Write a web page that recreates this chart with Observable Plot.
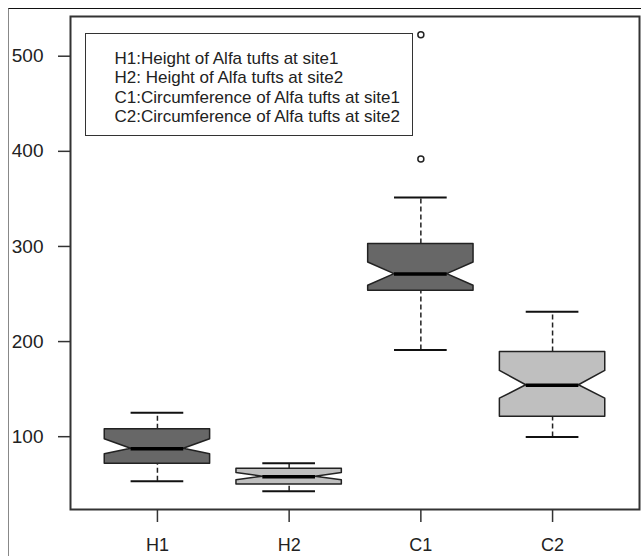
<!DOCTYPE html>
<html>
<head>
<meta charset="utf-8">
<script src="https://cdn.jsdelivr.net/npm/d3@7"></script>
<script src="https://cdn.jsdelivr.net/npm/@observablehq/plot@0.6"></script>
<style>
  body { margin: 0; background: white; }
  #wrap { position: relative; width: 641px; height: 556px; overflow: hidden; font-family: "Liberation Sans", Arial, sans-serif; }
  #outer { position: absolute; left: 8px; top: 8px; right: -4px; bottom: -4px; border-top: 1.5px solid #111; border-left: 1.5px solid #888; pointer-events: none; }
  #legend { position: absolute; left: 84.5px; top: 32.5px; width: 328px; height: 103px; box-sizing: border-box;
            border: 1.5px solid #333; background: white; padding: 15.6px 0 0 29px; font-size: 17px; line-height: 19.33px; color: #222; white-space: pre; }
</style>
</head>
<body>
<div id="wrap">
  <div id="chart"></div>
  <div id="outer"></div>
  <div id="legend"></div>
</div>
<script>
// ---- data ----
const categories = ["H1", "H2", "C1", "C2"];
const site = ["site1", "site2", "site1", "site2"];
const whiskerLow  = [50.0, 39.5, 188.0, 96.5];
const q1          = [68.4, 46.7, 250.2, 117.9];
const notchLow    = [78.3, 51.0, 255.5, 136.8];
const median      = [84.2, 54.8, 267.8, 150.9];
const notchHigh   = [94.1, 58.6, 280.0, 166.0];
const q3          = [104.6, 63.2, 299.4, 186.0];
const whiskerHigh = [122.1, 68.8, 348.4, 228.1];
const outlierCategory = ["C1", "C1"];
const outlierValue = [519.4, 388.8];
const yTicks = [100, 200, 300, 400, 500];
const legendLines = [
  "H1:Height of Alfa tufts at site1",
  "H2: Height of Alfa tufts at site2",
  "C1:Circumference of Alfa tufts at site1",
  "C2:Circumference of Alfa tufts at site2"
];

// ---- build tables ----
const boxes = categories.map((c, i) => ({
  cat: c, pos: i + 1, site: site[i],
  wl: whiskerLow[i], q1: q1[i], nl: notchLow[i], med: median[i],
  nh: notchHigh[i], q3: q3[i], wh: whiskerHigh[i]
}));
const BOX = 0.4, NOTCH = 0.2, STAPLE = 0.2;
const outline = boxes.flatMap(b => [
  {cat: b.cat, site: b.site, pos: b.pos, y: b.q1, half: BOX},
  {cat: b.cat, site: b.site, pos: b.pos, y: b.nl, half: BOX},
  {cat: b.cat, site: b.site, pos: b.pos, y: b.med, half: NOTCH},
  {cat: b.cat, site: b.site, pos: b.pos, y: b.nh, half: BOX},
  {cat: b.cat, site: b.site, pos: b.pos, y: b.q3, half: BOX}
]);
const outliers = outlierValue.map((v, i) => ({pos: categories.indexOf(outlierCategory[i]) + 1, v}));

// R-style 4% axis expansion
const allVals = whiskerLow.concat(whiskerHigh, outlierValue);
const lo = d3.min(allVals), hi = d3.max(allVals);
const pad = (hi - lo) * 0.04;
const xPad = (4.5 - 0.5) * 0.04;

const chart = Plot.plot({
  width: 641,
  height: 556,
  marginLeft: 70,
  marginRight: 2,
  marginTop: 16,
  marginBottom: 47,
  style: {fontFamily: "Liberation Sans, Arial, sans-serif", background: "white", color: "#222"},
  x: {type: "linear", domain: [0.5 - xPad, 4.5 + xPad]},
  y: {domain: [lo - pad, hi + pad]},
  color: {domain: ["site1", "site2"], range: ["#676767", "#bfbfbf"]},
  marks: [
    Plot.ruleX(boxes, {x: "pos", y1: "q3", y2: "wh", stroke: "#222", strokeWidth: 1.5, strokeDasharray: "5,3"}),
    Plot.ruleX(boxes, {x: "pos", y1: "wl", y2: "q1", stroke: "#222", strokeWidth: 1.5, strokeDasharray: "5,3"}),
    Plot.ruleY(boxes, {y: "wh", x1: d => d.pos - STAPLE, x2: d => d.pos + STAPLE, stroke: "#111", strokeWidth: 2}),
    Plot.ruleY(boxes, {y: "wl", x1: d => d.pos - STAPLE, x2: d => d.pos + STAPLE, stroke: "#111", strokeWidth: 2}),
    Plot.areaX(outline, {y: "y", x1: d => d.pos - d.half, x2: d => d.pos + d.half, z: "cat", fill: "site", stroke: "#222", strokeWidth: 1.5}),
    Plot.ruleY(boxes, {y: "med", x1: d => d.pos - NOTCH, x2: d => d.pos + NOTCH, stroke: "#000", strokeWidth: 3.5}),
    Plot.dot(outliers, {x: "pos", y: "v", r: 3, stroke: "#222", fill: "white", strokeWidth: 1.5}),
    Plot.frame({stroke: "#333", strokeWidth: 2}),
    Plot.axisY({ticks: yTicks, tickSize: 12, tickPadding: 15, fontSize: 19, dy: 3, stroke: "#333", strokeWidth: 1.5, label: null}),
    Plot.axisX({ticks: [1, 2, 3, 4], tickFormat: d => categories[d - 1], tickSize: 13, tickPadding: 16, fontSize: 18, stroke: "#333", strokeWidth: 1.5, label: null})
  ]
});
document.getElementById("chart").appendChild(chart);
document.getElementById("legend").textContent = legendLines.join("\n");
</script>
</body>
</html>
